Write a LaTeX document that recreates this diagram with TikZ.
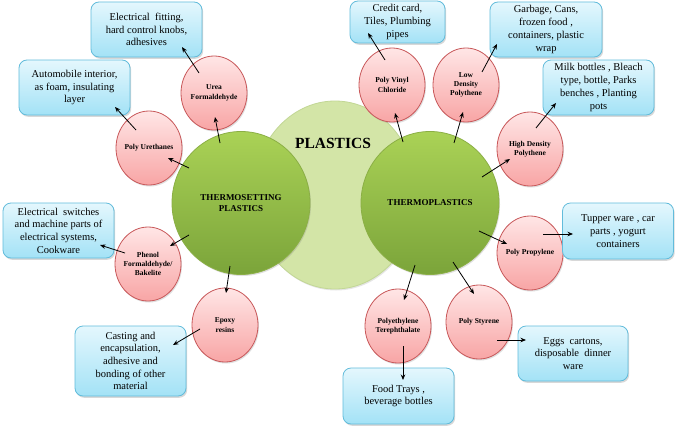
\documentclass[tikz,border=0pt]{standalone}
\usepackage{fontspec}
\setmainfont{Liberation Serif}
\usetikzlibrary{calc,shadows,arrows.meta,shapes.geometric}
\definecolor{boxtop}{HTML}{E4F7FD}
\definecolor{boxbot}{HTML}{A3E2F6}
\definecolor{boxborder}{HTML}{62BCDB}
\definecolor{elltop}{HTML}{FFE6E6}
\definecolor{ellbot}{HTML}{F8A5A5}
\definecolor{ellborder}{HTML}{C8585A}
\definecolor{gtop}{HTML}{AAD256}
\definecolor{gbot}{HTML}{7BA43A}
\definecolor{gborder}{HTML}{8BAF45}
\definecolor{lgfill}{HTML}{D3E5A7}
\definecolor{lgborder}{HTML}{C2D795}
\begin{document}
\begin{tikzpicture}[x=1pt,y=-1pt,
  infobox/.style={draw=boxborder, line width=0.8pt, rounded corners=8pt,
    top color=boxtop, bottom color=boxbot, inner sep=0pt, align=center,
    font=\fontsize{10.5}{12.7}\selectfont,
    drop shadow={shadow xshift=1.2pt, shadow yshift=-1.8pt, opacity=0.3}},
  ell/.style={ellipse, draw=ellborder, line width=0.8pt, top color=elltop,
    bottom color=ellbot, minimum width=66pt, minimum height=74pt, inner sep=0pt,
    drop shadow={shadow xshift=1pt, shadow yshift=-1.5pt, opacity=0.25}},
  lab/.style={font=\fontsize{7.5}{9.3}\selectfont\bfseries, align=center, inner sep=0pt},
  bigc/.style={ellipse, draw=gborder, line width=0.8pt, top color=gtop, bottom color=gbot,
    minimum width=138pt, minimum height=143pt, inner sep=0pt, align=center,
    font=\fontsize{9}{10.7}\selectfont\bfseries,
    drop shadow={shadow xshift=1pt, shadow yshift=-1.5pt, opacity=0.25}},
  arr/.style={-{Stealth[length=5.5pt,width=4.5pt]}, line width=0.8pt, black}]
\fill[white] (0,0) rectangle (676,428);
\useasboundingbox (0,0) rectangle (676,428);

% central circles
\node[ellipse, draw=lgborder, line width=0.8pt, fill=lgfill, minimum width=164pt, minimum height=188pt,
  drop shadow={shadow xshift=1pt, shadow yshift=-1.5pt, opacity=0.2}] (pl) at (335,195) {};
\node[font=\fontsize{15.5}{18}\selectfont\bfseries] (plt) at (333,143) {PLASTICS};
\node[bigc] (ts) at (241,203) {THERMOSETTING\\PLASTICS};
\node[bigc] (tp) at (430,203) {THERMOPLASTICS};

% ellipses
\node[ell, label={[lab]center:{Urea\\Formaldehyde}}] (uf) at (214,93) {};
\node[ell, label={[lab]center:{Poly Urethanes}}] (pu) at (149,148) {};
\node[ell, label={[lab]center:{Phenol\\Formaldehyde/\\Bakelite}}] (pf) at (148,264) {};
\node[ell, label={[lab]center:{Epoxy\\resins}}] (ep) at (225,325) {};
\node[ell, label={[lab]center:{Poly Vinyl\\Chloride}}] (pvc) at (392,85) {};
\node[ell, label={[lab]center:{Low\\Density\\Polythene}}] (ldp) at (466,85) {};
\node[ell, label={[lab]center:{High Density\\Polythene}}] (hdp) at (530,149) {};
\node[ell, label={[lab]center:{Poly Propylene}}] (pp) at (530,253) {};
\node[ell, label={[lab]center:{Poly Styrene}}] (ps) at (479,322) {};
\node[ell, label={[lab]center:{Polyethylene\\Terephthalate}}] (pet) at (398,326) {};

% boxes
\node[infobox, minimum width=111pt, minimum height=55pt] (b1) at (146.5,29.5)
  {Electrical\ \ fitting,\\hard control knobs,\\adhesives};
\node[infobox, minimum width=111pt, minimum height=55pt] (b2) at (74.5,87.5)
  {Automobile interior,\\as foam, insulating\\layer};
\node[infobox, minimum width=111pt, minimum height=55pt] (b3) at (58.5,230.5)
  {Electrical\ \ switches\\and machine parts of\\electrical systems,\\Cookware};
\node[infobox, minimum width=111pt, minimum height=70pt] (b4) at (130.5,361)
  {Casting and\\encapsulation,\\adhesive and\\bonding of other\\material};
\node[infobox, minimum width=95pt, minimum height=42pt] (b5) at (397.5,22)
  {Credit card,\\Tiles, Plumbing\\pipes};
\node[infobox, minimum width=112pt, minimum height=55pt] (b6) at (546,29.5)
  {Garbage, Cans,\\frozen food ,\\containers, plastic\\wrap};
\node[infobox, minimum width=111pt, minimum height=55pt] (b7) at (598.5,87.5)
  {Milk bottles , Bleach\\type, bottle, Parks\\benches , Planting\\pots};
\node[infobox, minimum width=111pt, minimum height=56pt] (b8) at (618,231)
  {Tupper ware , car\\parts , yogurt\\containers};
\node[infobox, minimum width=110pt, minimum height=55pt] (b9) at (573,353.5)
  {Eggs\ \ cartons,\\disposable\ \ dinner\\ware};
\node[infobox, minimum width=111pt, minimum height=56pt] (b10) at (398.5,396)
  {Food Trays ,\\beverage bottles};

% arrows
\draw[arr] ($(ts)+(-21,-60)$) -- ($(uf)+(1,24)$);
\draw[arr] ($(uf)+(-15,-20)$) -- ($(b1)+(35.5,17.5)$);
\draw[arr] ($(ts)+(-52,-35)$) -- ($(pu)+(19,10)$);
\draw[arr] ($(pu)+(-13,-18)$) -- ($(b2)+(40.5,19.5)$);
\draw[arr] ($(ts)+(-52,32)$) -- ($(pf)+(22,-18)$);
\draw[arr] ($(pf)+(-23,-11)$) -- ($(b3)+(41.5,14.5)$);
\draw[arr] ($(ts)+(-11,63)$) -- ($(ep)+(1,-32)$);
\draw[arr] ($(ep)+(-25,4)$) -- ($(b4)+(42.5,-16)$);
\draw[arr] ($(tp)+(-27,-61)$) -- ($(pvc)+(3,28)$);
\draw[arr] ($(pvc)+(-7,-25)$) -- ($(b5)+(-29.5,11)$);
\draw[arr] ($(tp)+(24,-60)$) -- ($(ldp)+(-3,27)$);
\draw[arr] ($(ldp)+(16,-13)$) -- ($(b6)+(-49,14.5)$);
\draw[arr] ($(tp)+(52,-26)$) -- ($(hdp)+(-20,10)$);
\draw[arr] ($(hdp)+(6,-21)$) -- ($(b7)+(-42.5,15.5)$);
\draw[arr] ($(tp)+(49,28)$) -- ($(pp)+(-23,-9)$);
\draw[arr] ($(pp)+(13,-19)$) -- ($(b8)+(-45,3)$);
\draw[arr] ($(tp)+(23,59)$) -- ($(ps)+(-5,-28)$);
\draw[arr] ($(ps)+(18,18)$) -- ($(b9)+(-47,-13.5)$);
\draw[arr] ($(tp)+(-15,62)$) -- ($(pet)+(6,-26)$);
\draw[arr] ($(pet)+(5,20)$) -- ($(b10)+(4.5,-16)$);
\end{tikzpicture}
\end{document}
